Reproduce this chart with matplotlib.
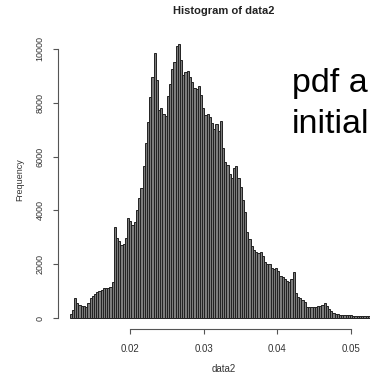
import numpy as np
import matplotlib
matplotlib.use('Agg')
import matplotlib.pyplot as plt

# histogram counts, bins of width 0.0003 starting at 0.0118
bin_start = 0.0118
bin_width = 0.0003
counts = [
    160, 310, 750, 570, 490, 470, 450, 420, 570, 750,
    830, 900, 975, 1010, 1050, 1120, 1120, 1140, 1160, 1350,
    3390, 2980, 2870, 2720, 2760, 2980, 3720, 3610, 3460, 3570,
    4020, 4460, 4830, 5650, 6500, 7280, 8210, 8950, 9840, 8840,
    7720, 7800, 7580, 7500, 8250, 8700, 9250, 9510, 10100, 10180,
    9580, 9030, 9140, 9170, 8950, 8770, 8550, 8510, 8620, 8280,
    7800, 7540, 7580, 7470, 7250, 7020, 7200, 6950, 7320, 6320,
    5800, 5690, 5350, 5200, 5580, 5650, 5200, 4870, 4390, 3940,
    3200, 2940, 2680, 2530, 2460, 2420, 2460, 2310, 2090, 2010,
    2010, 1870, 1830, 1870, 1750, 1570, 1530, 1460, 1380, 1350,
    1460, 1720, 940, 790, 750, 680, 600, 420, 420, 420,
    420, 420, 440, 460, 490, 550, 460, 345, 270, 200,
    160, 150, 140, 140, 125, 120, 115, 110, 100, 100,
    95, 90, 85, 80, 80, 75, 70, 65, 60, 55,
]
edges = bin_start + bin_width * np.arange(len(counts))

x_ticks = [0.02, 0.03, 0.04, 0.05]
y_ticks = [0, 2000, 4000, 6000, 8000, 10000]

plt.rcParams['font.family'] = ['Liberation Sans', 'DejaVu Sans']

W, H = 370, 376
fig = plt.figure(figsize=(W / 100, H / 100), dpi=100)
# plot region runs off the right edge like the cropped original
ax = fig.add_axes([58 / W, (H - 329) / H, (400 - 58) / W, (329 - 20) / H])

ax.bar(edges, counts, width=bin_width, align='edge',
       color='#7c7c7c', edgecolor='#222222', linewidth=0.7)

ax.set_xlim(0.010217, 0.056685)
ax.set_ylim(-397, 11064)

for s in ['top', 'right']:
    ax.spines[s].set_visible(False)
ax.spines['left'].set_bounds(0, 10000)
ax.spines['bottom'].set_bounds(0.02, 0.05)
for s in ['left', 'bottom']:
    ax.spines[s].set_color('#555555')
    ax.spines[s].set_linewidth(0.8)

ax.set_xticks(x_ticks)
ax.set_xticklabels(['%.2f' % v for v in x_ticks])
ax.set_yticks(y_ticks)
ax.set_yticklabels([str(v) for v in y_ticks], rotation=90, va='center')
ax.tick_params(axis='both', direction='out', length=3.6, width=0.8,
               color='#555555', labelsize=6.5, labelcolor='#333333')
ax.tick_params(axis='x', labelsize=7, pad=7)
ax.tick_params(axis='y', pad=6)

fig.text(224 / W, 1 - 11 / H, 'Histogram of data2', ha='center', va='center',
         fontsize=8, fontweight='bold', color='#222222')
fig.text(20 / W, 1 - 180 / H, 'Frequency', rotation=90, ha='center',
         va='center', fontsize=6.5, color='#333333')
fig.text(224 / W, 1 - 369 / H, 'data2', ha='center', va='center',
         fontsize=7, color='#333333')

fig.text(292 / W, 1 - 92 / H, 'pdf a', ha='left', va='baseline',
         fontsize=24.5, color='black')
fig.text(292 / W, 1 - 133 / H, 'initial', ha='left', va='baseline',
         fontsize=24.5, color='black')

plt.savefig('out.png', dpi=100)
